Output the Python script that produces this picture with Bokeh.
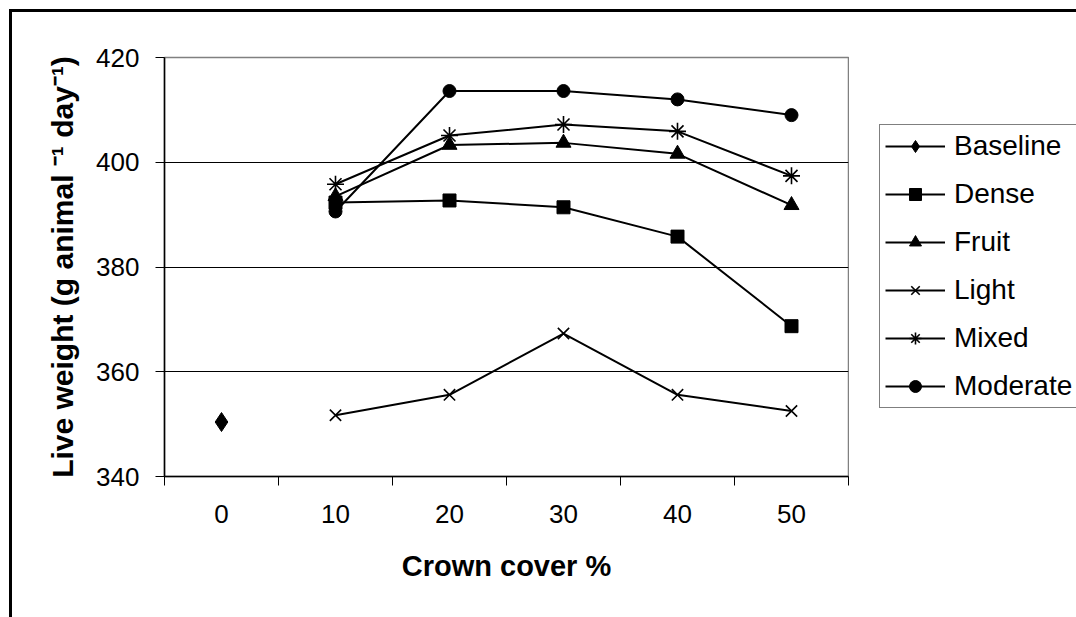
from bokeh.plotting import figure
from bokeh.models import Legend, LegendItem, FixedTicker, Range1d
from bokeh.layouts import row
from bokeh.embed import file_html
from bokeh.resources import INLINE

# ---- data ----
cover = [0, 10, 20, 30, 40, 50]
baseline_x = [0]
baseline = [350.4]
cover_t = [10, 20, 30, 40, 50]
dense = [392.3, 392.7, 391.4, 385.8, 368.7]
fruit = [393.5, 403.3, 403.7, 401.6, 391.8]
light = [351.7, 355.6, 367.3, 355.6, 352.5]
mixed = [395.8, 405.1, 407.2, 405.9, 397.4]
moderate = [390.6, 413.6, 413.6, 412.0, 409.0]
y_ticks = [340, 360, 380, 400, 420]
x_boundaries = [-5, 5, 15, 25, 35, 45, 55]
series_names = ["Baseline", "Dense", "Fruit", "Light", "Mixed", "Moderate"]

FONT = "Liberation Sans"

p = figure(width=849, height=617, output_backend="svg", toolbar_location=None,
           x_range=Range1d(-5, 55), y_range=Range1d(340, 420),
           min_border_left=164, min_border_right=1, min_border_top=57,
           min_border_bottom=141)
p.background_fill_color = "white"
p.border_fill_color = "white"
p.outline_line_color = "#808080"
p.outline_line_width = 1.5

# axes
xa = p.xaxis[0]
xa.ticker = FixedTicker(ticks=cover, minor_ticks=x_boundaries)
xa.major_tick_out = 0
xa.major_tick_in = 0
xa.minor_tick_out = 9
xa.minor_tick_in = 0
xa.minor_tick_line_color = "black"
xa.axis_line_color = "black"
xa.axis_line_width = 1.5
xa.major_label_text_font = FONT
xa.major_label_text_font_size = "26px"
xa.major_label_text_color = "black"
xa.major_label_standoff = 19
xa.axis_label = "Crown cover %"
xa.axis_label_text_font = FONT
xa.axis_label_text_font_size = "29px"
xa.axis_label_text_font_style = "bold"
xa.axis_label_text_color = "black"
xa.axis_label_standoff = 24

ya = p.yaxis[0]
ya.ticker = FixedTicker(ticks=y_ticks)
ya.minor_tick_line_color = None
ya.major_tick_out = 9
ya.major_tick_in = 0
ya.major_tick_line_color = "black"
ya.axis_line_color = "black"
ya.axis_line_width = 1.5
ya.major_label_text_font = FONT
ya.major_label_text_font_size = "26px"
ya.major_label_text_color = "black"
ya.major_label_standoff = 16
ya.axis_label = "Live weight (g animal \u207b\u00b9 day\u207b\u00b9)"
ya.axis_label_text_font = FONT
ya.axis_label_text_font_size = "30px"
ya.axis_label_text_font_style = "bold"
ya.axis_label_text_color = "black"
ya.axis_label_standoff = 14

p.xgrid.visible = False
p.ygrid.ticker = FixedTicker(ticks=[360, 380, 400])
p.ygrid.grid_line_color = "black"
p.ygrid.grid_line_width = 1

LW = 2
MARKERS = {
    "Baseline": dict(marker="diamond", size=19, color="black"),
    "Dense": dict(marker="square", size=13, color="black"),
    "Fruit": dict(marker="triangle", size=15, color="black"),
    "Light": dict(marker="x", size=16, line_color="black", line_width=1.6),
    "Mixed": dict(marker="asterisk", size=17, line_color="black", line_width=1.6),
    "Moderate": dict(marker="circle", size=13, color="black"),
}
xs = {"Baseline": baseline_x, "Dense": cover_t, "Fruit": cover_t,
      "Light": cover_t, "Mixed": cover_t, "Moderate": cover_t}
ys = {"Baseline": baseline, "Dense": dense, "Fruit": fruit,
      "Light": light, "Mixed": mixed, "Moderate": moderate}

for name in series_names:
    p.line(xs[name], ys[name], line_color="black", line_width=LW)
    p.scatter(xs[name], ys[name], **MARKERS[name])

# ---- legend panel (separate canvas so the legend is not clipped) ----
# its ranges lie away from the data, so only the legend glyphs show
p2 = figure(width=227, height=617, output_backend="svg", toolbar_location=None,
            x_range=Range1d(1000, 1001), y_range=Range1d(1000, 1001),
            x_axis_type=None, y_axis_type=None,
            min_border_left=0, min_border_right=0, min_border_top=0,
            min_border_bottom=0)
p2.outline_line_color = None
p2.xgrid.visible = False
p2.ygrid.visible = False
p2.background_fill_color = "white"
p2.border_fill_color = "white"

items = []
for name in series_names:
    rl = p2.line(xs[name], ys[name], line_color="black", line_width=LW)
    rm = p2.scatter(xs[name], ys[name], **MARKERS[name])
    items.append(LegendItem(label=name, renderers=[rl, rm]))

legend = Legend(items=items, location=(30, 68), orientation="vertical",
                padding=5, spacing=16, glyph_height=30, glyph_width=60,
                label_height=30, label_standoff=9, margin=0,
                label_text_font=FONT, label_text_font_size="28px",
                label_text_color="black", border_line_color="black",
                border_line_width=1.5, background_fill_color="white",
                background_fill_alpha=1.0)
p2.add_layout(legend, "center")

layout = row(p, p2, spacing=0)
layout.stylesheets = [
    ":host::after { content: ''; position: absolute; left: 9px; top: 9px; "
    "right: 0px; bottom: 0px; border-left: 3px solid black; "
    "border-top: 3px solid black; pointer-events: none; }"
]

open("out.html", "w").write(file_html(layout, INLINE))
